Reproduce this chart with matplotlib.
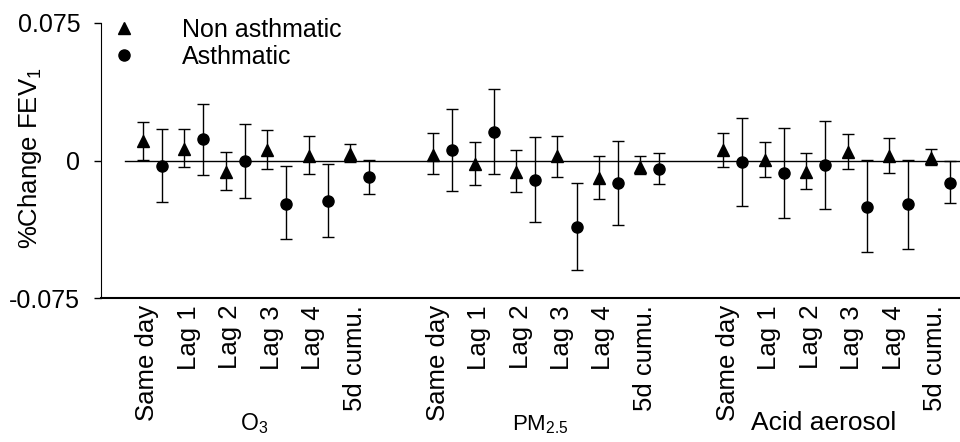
import numpy as np
import matplotlib
matplotlib.use("Agg")
import matplotlib.pyplot as plt
from matplotlib.lines import Line2D

plt.rcParams['font.family'] = ['Liberation Sans', 'DejaVu Sans']
plt.rcParams['mathtext.default'] = 'regular'
plt.rcParams['axes.unicode_minus'] = False

# -- data --
lags = ["Same day", "Lag 1", "Lag 2", "Lag 3", "Lag 4", "5d cumu."]
pollutants = ["O$_3$", "PM$_{2.5}$", "Acid aerosol"]

# non asthmatic (triangles): estimate, lower, upper
non_est = [0.0107, 0.0065, -0.0060, 0.0056, 0.0025, 0.0034,
           0.0031, -0.0020, -0.0060, 0.0022, -0.0096, -0.0033,
           0.0058, 0.0004, -0.0065, 0.0049, 0.0025, 0.0013]
non_lo = [0.0005, -0.0038, -0.0161, -0.0045, -0.0072, -0.0007,
          -0.0076, -0.0134, -0.0173, -0.0089, -0.0208, -0.0072,
          -0.0036, -0.0092, -0.0155, -0.0047, -0.0069, -0.0027]
non_hi = [0.0211, 0.0172, 0.0047, 0.0164, 0.0132, 0.0092,
          0.0148, 0.0099, 0.0060, 0.0136, 0.0025, 0.0023,
          0.0150, 0.0101, 0.0043, 0.0143, 0.0123, 0.0063]

# asthmatic (circles)
ast_est = [-0.0029, 0.0119, -0.0005, -0.0235, -0.0219, -0.0090,
           0.0058, 0.0157, -0.0105, -0.0360, -0.0125, -0.0045,
           -0.0009, -0.0070, -0.0023, -0.0251, -0.0239, -0.0121]
ast_lo = [-0.0228, -0.0081, -0.0206, -0.0430, -0.0416, -0.0181,
          -0.0166, -0.0074, -0.0338, -0.0598, -0.0352, -0.0128,
          -0.0248, -0.0314, -0.0264, -0.0501, -0.0481, -0.0233]
ast_hi = [0.0172, 0.0309, 0.0197, -0.0031, -0.0020, 0.0005,
          0.0280, 0.0392, 0.0128, -0.0123, 0.0108, 0.0040,
          0.0230, 0.0179, 0.0215, 0.0002, 0.0002, -0.0002]

# pair positions: 6 per group, one empty slot between groups
pos = np.array([g * 7 + i for g in range(3) for i in range(6)], dtype=float)
off = 0.23

non_est = np.array(non_est)
ast_est = np.array(ast_est)
non_err = [non_est - np.array(non_lo), np.array(non_hi) - non_est]
ast_err = [ast_est - np.array(ast_lo), np.array(ast_hi) - ast_est]

fig = plt.figure(figsize=(9.6, 4.42), dpi=100)
ax = fig.add_axes([101 / 960, 1 - 298 / 442, 859 / 960, 275 / 442])

ax.axhline(0, xmin=0.028, xmax=1, color='black', lw=1, zorder=1)

ax.errorbar(pos - off, non_est, yerr=non_err, fmt='^', color='black',
            ms=8, elinewidth=1, capsize=4, capthick=1, zorder=3)
ax.errorbar(pos + off, ast_est, yerr=ast_err, fmt='o', color='black',
            ms=8, elinewidth=1, capsize=4, capthick=1, zorder=3)

ax.set_xlim(-1.24, 19.48)
ax.set_ylim(-0.075, 0.075)

ax.set_yticks([-0.075, 0, 0.075])
ax.set_yticklabels(['-0.075', '0', '0.075'])
ax.tick_params(axis='y', direction='out', length=5, width=1, pad=10, labelsize=18)

ax.set_xticks(pos - 0.12)
ax.set_xticklabels(lags * 3, rotation=90, va='top', ha='center')
ax.tick_params(axis='x', length=0, pad=5, labelsize=18.5)

ax.set_ylabel('%Change FEV$_1$', fontsize=18.5)
ax.yaxis.set_label_coords(-0.066, 0.51)

for s in ['top', 'right']:
    ax.spines[s].set_visible(False)
ax.spines['left'].set_linewidth(0.8)
ax.spines['bottom'].set_linewidth(1.5)

# group names under the lag labels
group_x = [2.45, 9.35, 16.2]
group_fs = [16.5, 16, 19]
for name, gx, fs in zip(pollutants, group_x, group_fs):
    ax.annotate(name, xy=(gx, -0.48), xycoords=('data', 'axes fraction'),
                ha='center', va='baseline', fontsize=fs, annotation_clip=False)

handles = [Line2D([], [], marker='^', color='black', ls='none', ms=8),
           Line2D([], [], marker='o', color='black', ls='none', ms=8)]
ax.legend(handles, ['Non asthmatic', 'Asthmatic'], loc='upper left',
          bbox_to_anchor=(0.004, 1.045), frameon=False, fontsize=18,
          handlelength=1, handletextpad=1.8, labelspacing=0.1,
          borderpad=0, borderaxespad=0.3)

fig.savefig('out.png', dpi=100)
